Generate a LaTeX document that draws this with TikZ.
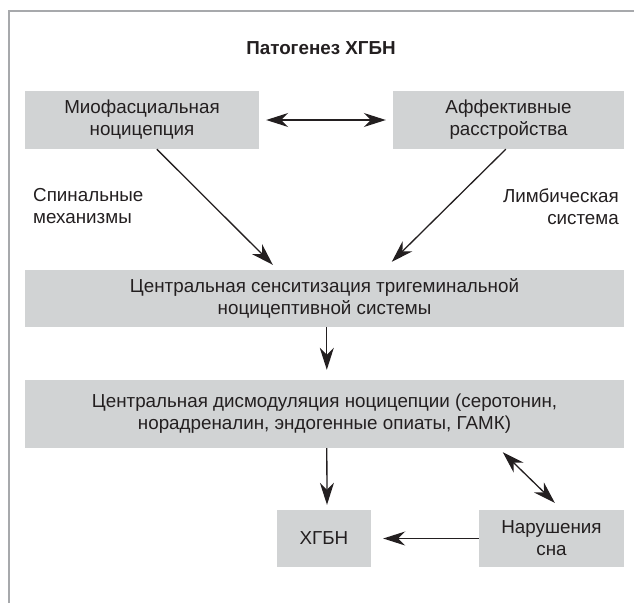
\documentclass[tikz,border=0pt]{standalone}
\usepackage{fontspec}
\setmainfont{Liberation Sans}
\usetikzlibrary{arrows.meta,calc}
\definecolor{boxgray}{HTML}{D1D3D4}
\definecolor{ink}{HTML}{231F20}
\definecolor{framegray}{HTML}{A7A9AC}
\begin{document}
\begin{tikzpicture}[x=1pt,y=-1pt,
  txt/.style={text=ink, inner sep=0pt, font=\fontsize{18.8}{22}\selectfont},
  box/.style={txt, fill=boxgray, align=center},
  arr/.style={draw=ink, line width=1.3pt, -{Stealth[length=22pt,width=14pt,inset=7pt]}},
  darr/.style={draw=ink, line width=1.3pt, {Stealth[length=22pt,width=14pt,inset=7pt]}-{Stealth[length=22pt,width=14pt,inset=7pt]}}]
\useasboundingbox (0,0) rectangle (634,603);
\draw[framegray, line width=2pt] (9,603) -- (9,11) -- (634,11);
\node[txt, font=\fontsize{18.8}{22}\selectfont\bfseries] (title) at (321,48) {Патогенез ХГБН};
\node[box, minimum width=234pt, minimum height=58pt] (b1) at (142,120) {Миофасциальная\\ноцицепция};
\node[box, minimum width=231pt, minimum height=58pt] (b2) at (508.5,120) {Аффективные\\расстройства};
\node[txt, align=left, anchor=west] (l1) at (33,206.5) {Спинальные\\механизмы};
\node[txt, align=right, anchor=east] (l2) at (619,206.5) {Лимбическая\\система};
\node[box, minimum width=599pt, minimum height=57pt] (b3) at (324.5,298.5) {Центральная сенситизация тригеминальной\\ноцицептивной системы};
\node[box, minimum width=599pt, minimum height=68pt] (b4) at (324.5,414) {Центральная дисмодуляция ноцицепции (серотонин,\\норадреналин, эндогенные опиаты, ГАМК)};
\node[box, minimum width=94pt, minimum height=57pt] (b5) at (324,538.5) {ХГБН};
\node[box, minimum width=145pt, minimum height=57pt] (b6) at (551.5,538.5) {Нарушения\\сна};
\draw[darr, shorten <=7pt, shorten >=7pt] (b1) -- (b2);
\draw[arr] ($(b1.south west)+(132,0)$) -- ($(b3.north west)+(248,-5)$);
\draw[arr] ($(b2.south west)+(113,0)$) -- ($(b3.north west)+(367,-8)$);
\draw[arr] ($(b3.south west)+(302,0)$) -- ($(b4.north west)+(302,-10)$);
\draw[arr] ($(b4.south west)+(302,0)$) -- ($(b5.north)+(3,-5)$);
\draw[arr, shorten >=12pt] (b6) -- (b5);
\draw[darr] ($(b4.south west)+(478,4)$) -- ($(b6.north west)+(76,-7)$);
\end{tikzpicture}
\end{document}
